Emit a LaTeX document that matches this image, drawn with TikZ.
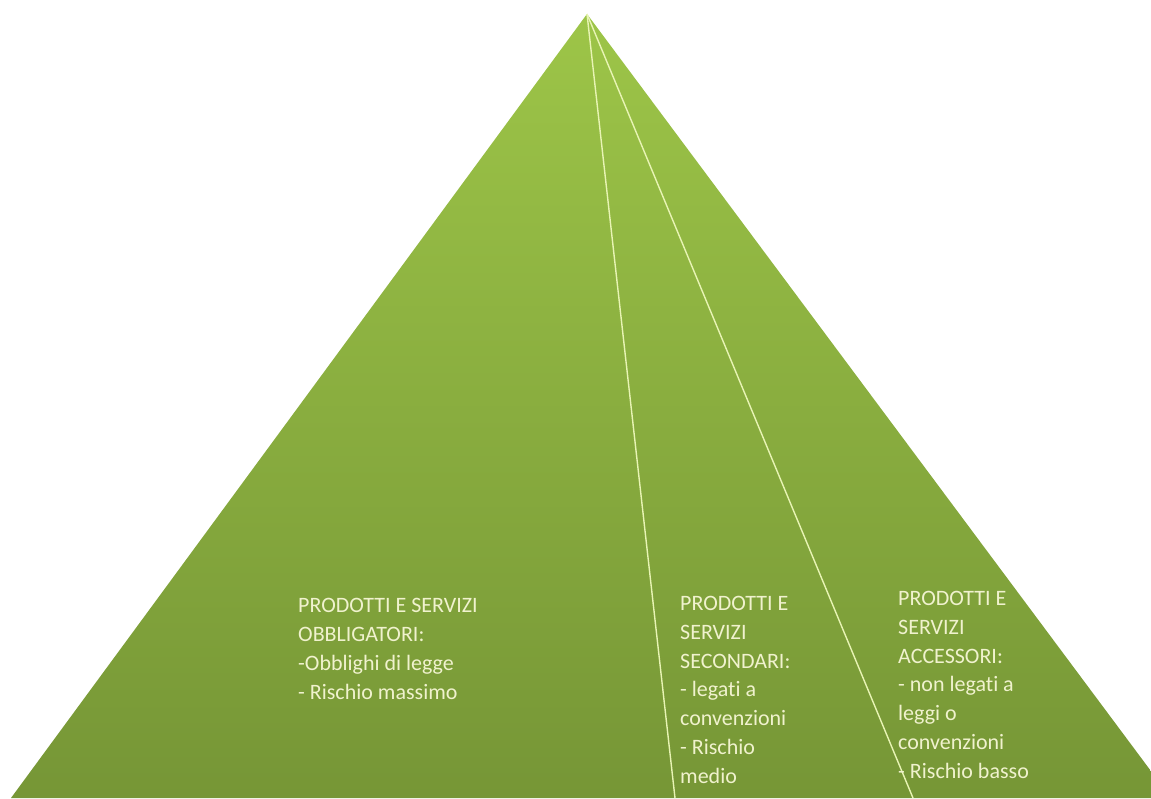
\documentclass[tikz,border=0pt]{standalone}
\usepackage{fontspec}
\setmainfont[Ligatures=NoCommon]{Carlito}
\usepackage{xcolor}
\definecolor{greentop}{RGB}{157,197,72}
\definecolor{greenbot}{RGB}{118,150,54}
\definecolor{divline}{RGB}{232,244,180}
\definecolor{labeltext}{RGB}{240,242,206}
\tikzset{
  tierlabel/.style={anchor=base west, inner sep=0pt, align=left, text=labeltext,
    font=\fontsize{22}{28.7}\selectfont},
}

\begin{document}
\begin{tikzpicture}[x=1pt,y=-1pt]
                \useasboundingbox (0,0) rectangle (1151,798);
                \coordinate (apex) at (587,14);
                \coordinate (left) at (11,798);
                \coordinate (right) at (1171,798);
                \coordinate (cut1) at (675,798);
                \coordinate (cut2) at (913,798);
                % the pyramid, cut off at the page edge
                \begin{scope}
                \clip (0,0) rectangle (1151,798);
                \shade [top color=greentop, bottom color=greenbot] (apex) -- (left) -- (right) -- cycle;
                \end{scope}
                \draw [divline, line width=1.4pt] (apex) to (cut1);
                \draw [divline, line width=1.4pt] (apex) to (cut2);
                % base of each node is the baseline of its last line
                \node [tierlabel] (obbl) at (298,699) {PRODOTTI E SERVIZI\\OBBLIGATORI:\\-Obblighi di legge\\- Rischio massimo};
                \node [tierlabel] (sec) at (680,783) {PRODOTTI E\\SERVIZI\\SECONDARI:\\- legati a\\convenzioni\\- Rischio\\medio};
                \node [tierlabel] (acc) at (898,778) {PRODOTTI E\\SERVIZI\\ACCESSORI:\\- non legati a\\leggi o\\convenzioni\\- Rischio basso};
            \end{tikzpicture}
\end{document}
